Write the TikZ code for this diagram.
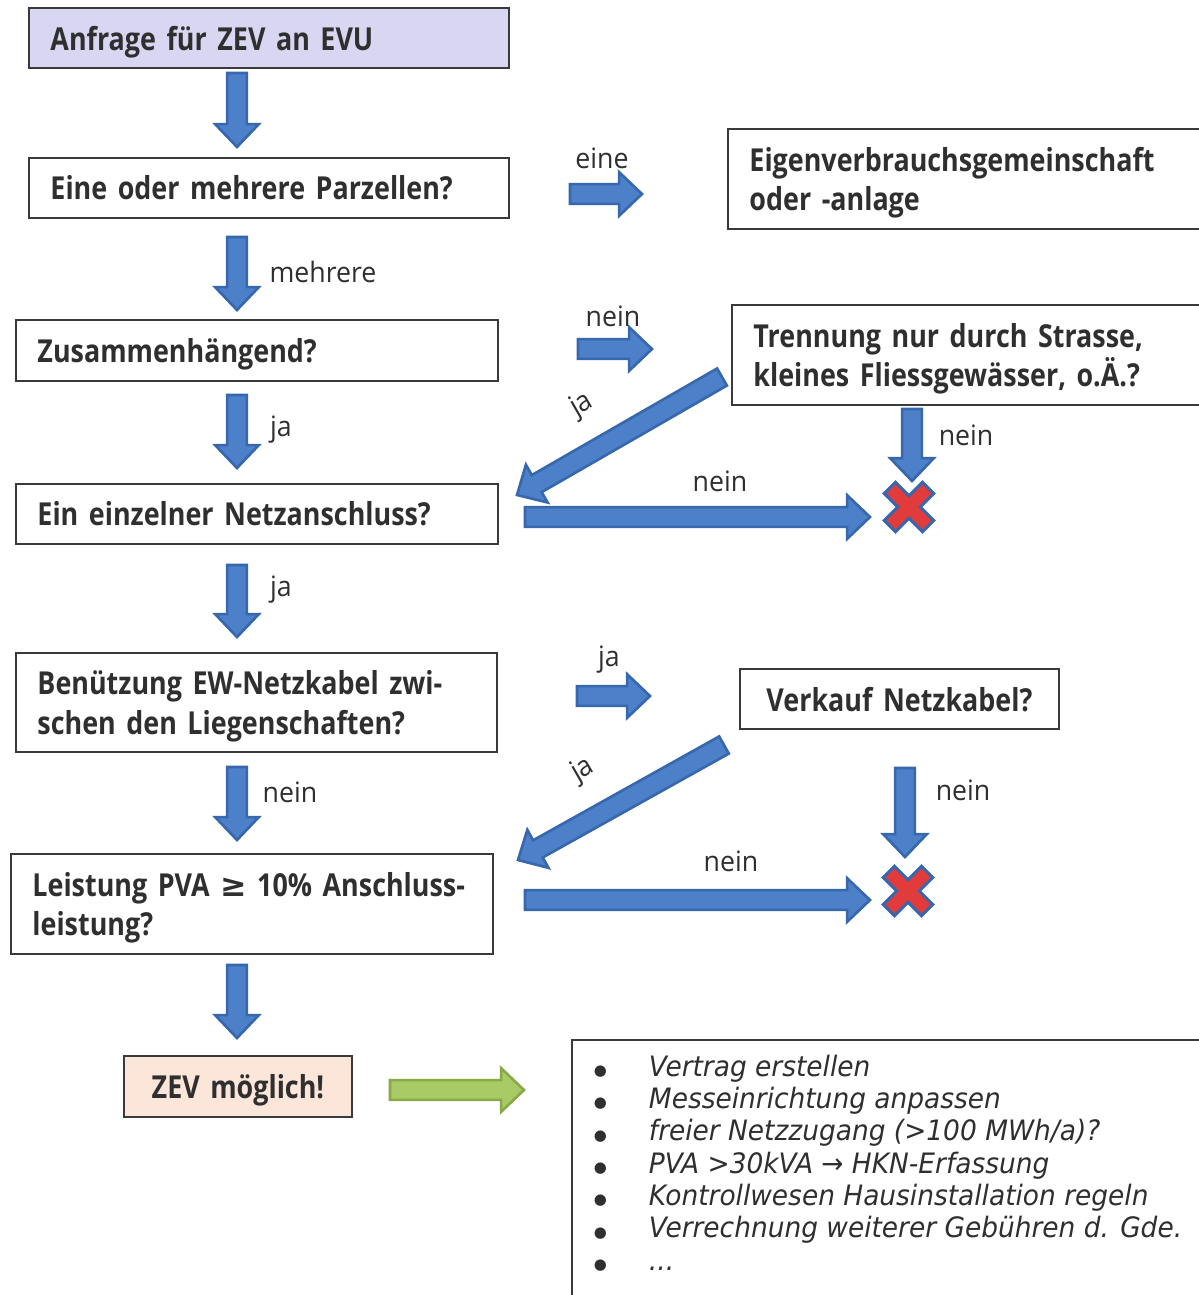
\documentclass[tikz,border=0pt]{standalone}
\usepackage{fontspec}
\setmainfont{Open Sans}
\newfontfamily\boxfont{Open Sans}[FakeStretch=0.85]
\newfontfamily\labfont{Open Sans}[FakeStretch=0.95]
\newfontfamily\listfont{DejaVu Sans}[FakeStretch=0.94]
\newfontfamily\symfont{DejaVu Sans}
\usepackage{tikz}
\usetikzlibrary{calc}
\definecolor{boxline}{HTML}{3A3A3A}
\definecolor{txtdk}{HTML}{2F2F2F}
\definecolor{zevlila}{HTML}{D9D6F2}
\definecolor{zevpeach}{HTML}{FCE6DA}
\definecolor{barrowfill}{HTML}{4C80C9}
\definecolor{barrowline}{HTML}{3767AD}
\definecolor{garrowfill}{HTML}{A8CB66}
\definecolor{garrowline}{HTML}{88A948}
\definecolor{xred}{HTML}{E23B3B}
\tikzset{
  qbox/.style    = {draw=boxline, line width=1.1pt, anchor=north west,
                    inner xsep=0.43cm, inner ysep=0pt, align=left, text=txtdk,
                    font=\boxfont\bfseries\fontsize{18}{22.6}\selectfont},
  qbox1/.style   = {qbox, text depth=0pt, minimum height=1.2cm},
  qbox2/.style   = {qbox, text height=18pt, minimum height=2cm},
  lab/.style     = {text=txtdk, inner sep=1pt,
                    font=\labfont\fontsize{16}{18}\selectfont},
  listbox/.style = {draw=boxline, line width=1.1pt, anchor=north west,
                    inner xsep=0.44cm, inner ysep=0.30cm, text=txtdk,
                    font=\listfont\itshape\fontsize{16}{18.4}\selectfont},
  barrow/.style  = {fill=barrowfill, draw=barrowline, line width=1.5pt},
  garrow/.style  = {fill=garrowfill, draw=garrowline, line width=1.5pt},
  nomark/.pic    = {
    \filldraw[fill=xred, draw=barrowline, line width=1.7pt, rotate=45]
      (-8,-27) -- (8,-27) -- (8,-8) -- (27,-8) -- (27,8) -- (8,8) -- (8,27)
      -- (-8,27) -- (-8,8) -- (-27,8) -- (-27,-8) -- (-8,-8) -- cycle;
  },
}
\newcommand{\blockarrow}[3][barrow]{% #1 = style, #2 = tail, #3 = tip
  \path[#1] let \p1=(#2), \p2=(#3), \p3=($(\p2)!13pt!(\p1)$) in
    ($(\p1)!5.6pt!90:(\p2)$) -- ($(\p3)!5.6pt!90:(\p2)$)
    -- ($(\p3)!12.4pt!90:(\p2)$) -- (\p2)
    -- ($(\p3)!12.4pt!-90:(\p2)$) -- ($(\p3)!5.6pt!-90:(\p2)$)
    -- ($(\p1)!5.6pt!-90:(\p2)$) -- cycle;}
\newcommand{\itm}[1]{\makebox[1.1cm][l]{\raisebox{0.5pt}{\symfont\fontsize{8.5}{8.5}\selectfont●}}#1\\}

\begin{document}
\begin{tikzpicture}[x=0.02cm,y=-0.02cm]
  \useasboundingbox (0,0) rectangle (1199,1295);
  \clip (0,0) rectangle (1199,1295);

  % left column
  \node[qbox1, fill=zevlila, text width=8.74cm] (anfrage) at (28,7)
    {Anfrage für ZEV an EVU};
  \node[qbox1, text width=8.74cm] (parz) at (28,157)
    {Eine oder mehrere Parzellen?};
  \node[qbox1, text width=8.78cm, minimum height=1.22cm] (zus) at (15,319)
    {Zusammenhängend?};
  \node[qbox1, text width=8.78cm] (netz) at (15,483)
    {Ein einzelner Netzanschluss?};
  \node[qbox2, text width=8.76cm, minimum height=1.98cm] (kabel) at (15,652)
    {Benützung EW-Netzkabel zwi-\\schen den Liegenschaften?};
  \node[qbox2, text width=8.78cm] (leist) at (10,853)
    {Leistung PVA {\symfont ≥} 10\% Anschluss-\\leistung?};
  \node[qbox1, align=center, fill=zevpeach, text width=3.7cm, minimum height=1.22cm] (ok) at (123,1055)
    {ZEV möglich!};

  % right column
  \node[qbox2, text width=8.9cm] (evg) at (727,128)
    {Eigenverbrauchsgemeinschaft\\oder -anlage};
  \node[qbox2, text width=8.82cm] (trenn) at (731,304)
    {Trennung nur durch Strasse,\\kleines Fliessgewässer, o.Ä.?};
  \node[qbox1, align=center, text width=5.52cm] (verk) at (739,668)
    {Verkauf Netzkabel?};
  \node[listbox] (todo) at (571,1039) {\parbox[t][5.5cm][t]{11.9cm}{%
    \itm{Vertrag erstellen}
    \itm{Messeinrichtung anpassen}
    \itm{freier Netzzugang (>100 MWh/a)?}
    \itm{PVA >30kVA → HKN-Erfassung}
    \itm{Kontrollwesen Hausinstallation regeln}
    \itm{Verrechnung weiterer Gebühren d. Gde.}
    \itm{...}}};

  % no-go marks
  \coordinate (nox1) at (909,507);
  \coordinate (nox2) at (908,891);
  \pic at (nox1) {nomark};
  \pic at (nox2) {nomark};

  % arrow tails and tips
  \coordinate (t1) at (237,73);   \coordinate (h1) at (237,147);
  \coordinate (t2) at (570,194);  \coordinate (h2) at (642,194);
  \coordinate (t3) at (237,237);  \coordinate (h3) at (237,310);
  \coordinate (t4) at (578,349);  \coordinate (h4) at (652,349);
  \coordinate (t5) at (237,395);  \coordinate (h5) at (237,468);
  \coordinate (t6) at (722,377);  \coordinate (h6) at (517,495);
  \coordinate (t7) at (912,409);  \coordinate (h7) at (912,481);
  \coordinate (t8) at (525,517);  \coordinate (h8) at (870,517);
  \coordinate (t9) at (237,565);  \coordinate (h9) at (237,637);
  \coordinate (t10) at (577,696); \coordinate (h10) at (650,696);
  \coordinate (t11) at (724,745); \coordinate (h11) at (518,860);
  \coordinate (t12) at (237,767); \coordinate (h12) at (237,840);
  \coordinate (t13) at (905,768); \coordinate (h13) at (905,857);
  \coordinate (t14) at (525,900); \coordinate (h14) at (870,900);
  \coordinate (t15) at (237,965); \coordinate (h15) at (237,1038);
  \coordinate (tz) at (390,1090); \coordinate (hz) at (524,1090);
  \foreach \i in {1,...,15}{\blockarrow{t\i}{h\i}}
  \blockarrow[garrow]{tz}{hz}

  % labels
  \node[lab] (l1) at (602,158) {eine};
  \node[lab] (l2) at (323,272) {mehrere};
  \node[lab] (l3) at (613,316) {nein};
  \node[lab] (l4) at (281,430) {ja};
  \node[lab, rotate=30] (l5) at (582,405) {ja};
  \node[lab] (l6) at (966,435) {nein};
  \node[lab] (l7) at (720,481) {nein};
  \node[lab] (l8) at (281,590) {ja};
  \node[lab] (l9) at (609,660) {ja};
  \node[lab, rotate=30] (l10) at (583,770) {ja};
  \node[lab] (l11) at (290,792) {nein};
  \node[lab] (l12) at (963,790) {nein};
  \node[lab] (l13) at (731,861) {nein};
\end{tikzpicture}
\end{document}
